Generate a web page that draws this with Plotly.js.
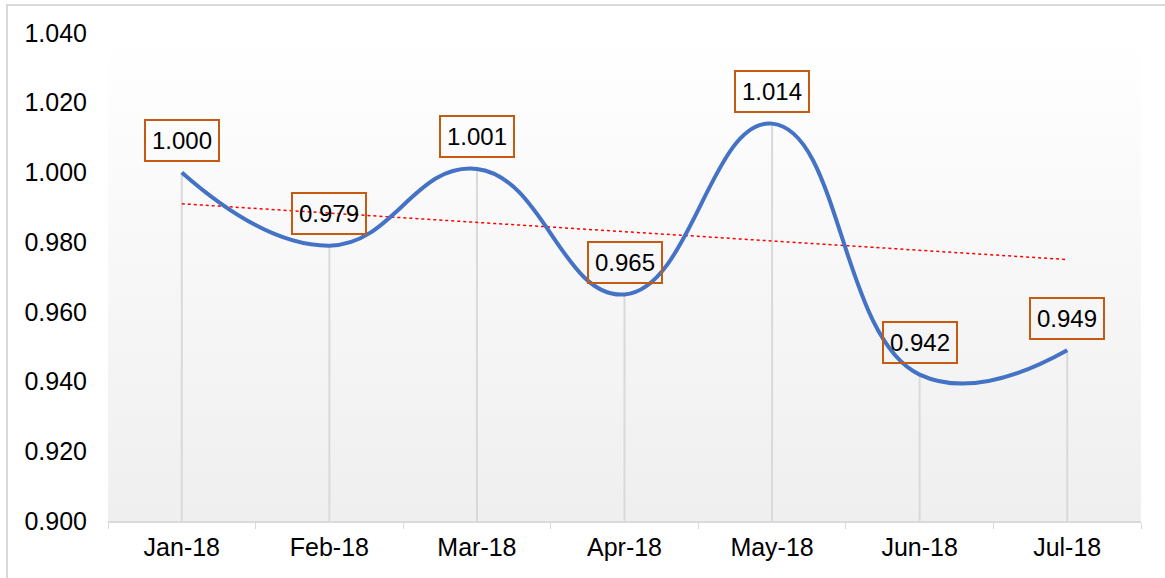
<!DOCTYPE html>
<html>
<head>
<meta charset="utf-8">
<script src="https://cdn.plot.ly/plotly-3.0.1.min.js"></script>
<style>
html,body{margin:0;padding:0;background:#fff;overflow:hidden;}
#chart{position:absolute;left:0;top:0;width:1165px;height:578px;}
#frame{position:absolute;left:6px;top:4px;width:1200px;height:700px;border-left:2px solid #d9d9d9;border-top:2px solid #d9d9d9;pointer-events:none;}
</style>
</head>
<body>
<div id="chart"></div>
<div id="frame"></div>
<script>
const categories = ['Jan-18','Feb-18','Mar-18','Apr-18','May-18','Jun-18','Jul-18'];
const values = [1.000, 0.979, 1.001, 0.965, 1.014, 0.942, 0.949];
const labels = ['1.000','0.979','1.001','0.965','1.014','0.942','0.949'];
const trendValues = [0.991, 0.975];   // trendline at first and last category
const yTickVals = [0.900,0.920,0.940,0.960,0.980,1.000,1.020,1.040];
const yTickText = ['0.900','0.920','0.940','0.960','0.980','1.000','1.020','1.040'];
const yMin = 0.900, yMax = 1.040;

const FONT = 'Liberation Sans, Arial, sans-serif';

const dropX = [], dropY = [];
categories.forEach((c,i)=>{ dropX.push(c,c,null); dropY.push(yMin, values[i], null); });

const traces = [
  {x: dropX, y: dropY, mode:'lines', line:{color:'#d9d9d9', width:2}, hoverinfo:'skip', showlegend:false},
  {x: [categories[0], categories[categories.length-1]], y: trendValues, mode:'lines',
   line:{color:'#ff0000', width:1.5, dash:'dot'}, hoverinfo:'skip', showlegend:false},
  {x: categories, y: values, mode:'lines', line:{color:'#4472c4', width:4, shape:'spline', smoothing:1.3},
   showlegend:false}
];

const annotations = categories.map((c,i)=>({
  x: c, y: values[i], xref:'x', yref:'y', text: labels[i], showarrow:false,
  yshift: 32, font:{family:FONT, size:24, color:'#000'},
  bordercolor:'#c55a11', borderwidth:2, borderpad:6, bgcolor:'rgba(0,0,0,0)'
}));

const grad = "data:image/svg+xml;utf8," + encodeURIComponent(
 "<svg xmlns='http://www.w3.org/2000/svg' width='100' height='100' preserveAspectRatio='none'>" +
 "<defs><linearGradient id='g' x1='0' y1='0' x2='0' y2='1'><stop offset='0' stop-color='#ffffff'/><stop offset='1' stop-color='#efefef'/></linearGradient></defs>" +
 "<rect width='100' height='100' fill='url(#g)'/></svg>");

const layout = {
  width:1165, height:578,
  margin:{l:108, r:24, t:33, b:57, pad:0},
  paper_bgcolor:'rgba(0,0,0,0)', plot_bgcolor:'rgba(0,0,0,0)',
  font:{family:FONT, size:25, color:'#000'},
  showlegend:false,
  xaxis:{type:'category', categoryarray:categories, range:[-0.5, 6.5],
    showline:true, linecolor:'#d9d9d9', linewidth:2, showgrid:false, zeroline:false,
    ticks:'outside', tickson:'boundaries', ticklen:6, tickcolor:'#d9d9d9', tickwidth:1,
    tickfont:{family:FONT, size:25, color:'#000'}, ticklabelstandoff:3},
  yaxis:{range:[yMin, yMax], tickvals:yTickVals, ticktext:yTickText,
    showline:false, showgrid:false, zeroline:false, ticks:'',
    tickfont:{family:FONT, size:25, color:'#000'}, ticklabelstandoff:20},
  annotations: annotations,
  images:[{source:grad, xref:'paper', yref:'paper', x:0, y:1, sizex:1, sizey:1,
    xanchor:'left', yanchor:'top', sizing:'stretch', layer:'below'}]
};

Plotly.newPlot('chart', traces, layout, {displayModeBar:false, staticPlot:true});
</script>
</body>
</html>
